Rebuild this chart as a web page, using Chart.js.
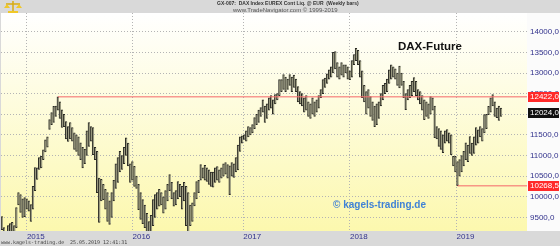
<!DOCTYPE html>
<html>
<head>
<meta charset="utf-8">
<script src="https://cdn.jsdelivr.net/npm/chart.js@4"></script>
<style>
  html, body { margin: 0; padding: 0; background: #fff; }
  canvas { display: block; }
</style>
</head>
<body>
<canvas id="daxChart" width="560" height="246"></canvas>
<script>
// DAX-Future, Wochenbars Okt 2014 - Mai 2019 (Tief / Hoch je Woche)
const lows = [
  9200, 8600, 8700, 8900, 9000, 9050, 9100, 9250, 9800, 9620,
  9500, 9520, 9700, 9650, 9400, 9700, 10150, 10420, 10660, 10700,
  10900, 11090, 11200, 11630, 11750, 11800, 11950, 12100, 11900, 11680,
  11700, 11400, 11340, 11400, 11350, 11150, 11100, 11000, 10900, 10700,
  10800, 11000, 11220, 11350, 11020, 10900, 10100, 9380, 9900, 9930,
  9700, 9400, 9330, 9500, 9900, 10200, 10350, 10600, 10660, 10800,
  11000, 10750, 10350, 10400, 10250, 10200, 9690, 9450, 9350, 9250,
  8900, 8700, 9100, 9300, 9500, 9700, 9770, 9800, 9600, 9700,
  9900, 10150, 9950, 9770, 9800, 9950, 10000, 9700, 9900, 9300,
  9100, 9300, 9400, 9780, 9950, 10100, 10400, 10450, 10400, 10370,
  10300, 10250, 10230, 10350, 10400, 10350, 10450, 10500, 10550, 10450,
  10050, 10500, 10470, 10600, 10650, 11100, 11300, 11390, 11350, 11450,
  11500, 11550, 11650, 11750, 11800, 11950, 12050, 11800, 11900, 12100,
  12150, 12000, 12250, 12350, 12450, 12550, 12600, 12550, 12600, 12700,
  12550, 12650, 12550, 12300, 12250, 12200, 12050, 12100, 11950, 11900,
  12000, 11950, 12050, 12150, 12400, 12500, 12650, 12750, 12850, 12900,
  13000, 13100, 12900, 12850, 12950, 12900, 13000, 12850, 12840, 12900,
  13200, 13300, 13200, 12900, 12400, 12300, 12000, 12150, 11950, 11850,
  11700, 11750, 11900, 12200, 12350, 12500, 12550, 12750, 12850, 12900,
  12850, 12700, 12640, 12700, 12400, 12110, 12350, 12400, 12450, 12550,
  12450, 12350, 12250, 12100, 11870, 11950, 11900, 12000, 12100, 11430,
  11400, 11220, 11150, 11070, 11300, 11350, 11300, 11020, 10750, 10600,
  10268.5, 10500, 10600, 10750, 10900, 10850, 11050, 11000, 11050, 11250,
  11300, 11450, 11350, 11550, 11650, 11990, 12050, 12200, 11950, 11920,
  11850, 11950
];
const highs = [
  9520, 9250, 9100, 9300, 9350, 9380, 9300, 9740, 10100, 10050,
  9950, 9980, 9950, 9900, 9810, 10250, 10710, 10700, 10950, 10980,
  11140, 11380, 11450, 11870, 12040, 12190, 12200, 12422, 12300, 12110,
  12000, 11820, 11700, 11800, 11680, 11550, 11500, 11450, 11310, 11200,
  11150, 11600, 11800, 11700, 11680, 11200, 11100, 10450, 10420, 10300,
  10180, 10100, 9900, 10100, 10400, 10800, 10950, 11100, 11000, 11200,
  11430, 11300, 10800, 10850, 10740, 10500, 10300, 10100, 9930, 9800,
  9600, 9400, 9550, 9930, 10050, 10100, 10180, 10100, 10000, 10150,
  10300, 10540, 10350, 10100, 10150, 10370, 10300, 10250, 10350, 10250,
  10100, 9800, 9850, 10100, 10370, 10400, 10780, 10700, 10760, 10700,
  10650, 10600, 10600, 10700, 10730, 10650, 10700, 10800, 10830, 10780,
  10750, 10830, 10800, 10950, 11250, 11450, 11480, 11500, 11600, 11700,
  11680, 11750, 11920, 12000, 12100, 12160, 12350, 12200, 12250, 12400,
  12450, 12350, 12480, 12500, 12840, 12840, 12960, 12900, 12850, 12960,
  12900, 12950, 12850, 12670, 12550, 12500, 12400, 12450, 12300, 12250,
  12400, 12300, 12350, 12450, 12600, 12840, 12880, 12980, 13080, 13150,
  13500, 13520, 13250, 13150, 13250, 13200, 13200, 13150, 13050, 13300,
  13450, 13600, 13550, 13300, 13050, 12700, 12550, 12600, 12430, 12300,
  12200, 12250, 12300, 12500, 12700, 12750, 12850, 13080, 13200, 13150,
  13100, 13000, 13170, 13000, 12800, 12500, 12600, 12700, 12800, 12890,
  12800, 12600, 12550, 12450, 12350, 12300, 12250, 12430, 12400, 12200,
  11700, 11650, 11600, 11500, 11600, 11630, 11550, 11500, 10980, 10980,
  10850, 10900, 11000, 11100, 11310, 11250, 11460, 11300, 11450, 11680,
  11620, 11700, 11650, 11990, 12000, 12190, 12400, 12475, 12300, 12150,
  12200, 12150
];
const lastClose = 12024;
const resistanceLevel = 12422;   // Hoch April 2015
const supportLevel = 10268.5;    // Tief Dezember 2018

const yearTicks = [12, 63, 116.5, 168, 219.5];   // Wochenindex des Jahreswechsels
const yearLabels = ['2015', '2016', '2017', '2018', '2019'];
const priceTicks = [9500, 10000, 10500, 11000, 11500, 12000, 12500, 13000, 13500, 14000];

const X_MIN = -0.5, X_MAX = 253.5;
const Y_MIN = 9170, Y_MAX = 14455;

const fmt = v => v.toFixed(1).replace('.', ',');

const bars = highs.map((h, i) => ({ x: i, y: [lows[i], h] }));
const resStart = highs.indexOf(resistanceLevel);
const supStart = lows.indexOf(supportLevel);

// Hintergrund: grauer Rahmen, Verlauf weiss -> gelb im Chartbereich
const backgroundPlugin = {
  id: 'background',
  beforeDraw(chart) {
    const { ctx, chartArea: a, width, height } = chart;
    ctx.save();
    ctx.fillStyle = '#d9d9d9';
    ctx.fillRect(0, 0, width, height);
    ctx.fillStyle = '#fbfbfb';
    ctx.fillRect(a.right, a.top, width - a.right, a.bottom - a.top);
    const g = ctx.createLinearGradient(0, a.top, 0, a.bottom);
    g.addColorStop(0, '#ffffff');
    g.addColorStop(1, '#fcf8ae');
    ctx.fillStyle = g;
    ctx.fillRect(a.left, a.top, a.right - a.left, a.bottom - a.top);

    // Logo (Waage) oben links
    ctx.strokeStyle = '#d9ac10';
    ctx.fillStyle = '#f0c828';
    ctx.lineWidth = 1.5;
    ctx.beginPath();
    ctx.moveTo(13, 1); ctx.lineTo(13, 11);
    ctx.moveTo(6, 4); ctx.lineTo(20, 4);
    ctx.stroke();
    ctx.beginPath(); ctx.moveTo(4, 8); ctx.lineTo(10, 8); ctx.lineTo(7, 4); ctx.closePath(); ctx.fill();
    ctx.beginPath(); ctx.moveTo(16, 8); ctx.lineTo(22, 8); ctx.lineTo(19, 4); ctx.closePath(); ctx.fill();
    ctx.fillRect(8, 11, 10, 2);

    // Kopfzeile
    ctx.fillStyle = '#333';
    ctx.textBaseline = 'middle';
    ctx.textAlign = 'left';
    ctx.font = 'bold 5px "Liberation Sans", Arial, sans-serif';
    ctx.fillText('GX-007:  DAX Index EUREX Cont Liq. @ EUR  (Weekly bars)', 217, 4);
    ctx.font = '6px "Liberation Sans", Arial, sans-serif';
    ctx.fillStyle = '#555';
    ctx.fillText('www.TradeNavigator.com \u00a9 1999-2019', 233, 10);

    // Fusszeile
    ctx.fillStyle = '#444';
    ctx.font = '5px "DejaVu Sans Mono", monospace';
    ctx.fillText('www.kagels-trading.de', 1, 243);
    ctx.fillText('25.05.2019 12:41:31', 70, 243);
    ctx.restore();
  },
  afterDraw(chart) {
    const { ctx, chartArea: a, scales } = chart;
    ctx.save();
    // Texte im Chart
    ctx.textBaseline = 'middle';
    ctx.textAlign = 'left';
    ctx.fillStyle = '#111';
    ctx.font = 'bold 11.5px "Liberation Sans", Arial, sans-serif';
    ctx.fillText('DAX-Future', 398, 47);
    ctx.fillStyle = '#3f82d6';
    ctx.font = 'bold 10px "Liberation Sans", Arial, sans-serif';
    ctx.fillText('\u00a9 kagels-trading.de', 333, 205);

    // Kursmarken an der rechten Achse
    const marks = [
      { v: resistanceLevel, bg: '#ff2a2a' },
      { v: lastClose, bg: '#111111' },
      { v: supportLevel, bg: '#ff2a2a' }
    ];
    ctx.font = '8px "Liberation Sans", Arial, sans-serif';
    marks.forEach(m => {
      const y = scales.y.getPixelForValue(m.v);
      ctx.fillStyle = m.bg;
      ctx.fillRect(a.right + 1, Math.round(y) - 5, 31, 10);
      ctx.fillStyle = '#fff';
      ctx.fillText(fmt(m.v), a.right + 3, y);
    });
    ctx.restore();
  }
};

const ctx = document.getElementById('daxChart').getContext('2d');
const myChart = new Chart(ctx, {
  data: {
    datasets: [
      {
        type: 'line',
        data: [{ x: resStart, y: resistanceLevel }, { x: X_MAX, y: resistanceLevel }],
        borderColor: 'rgba(245, 110, 110, 0.7)',
        borderWidth: 1.5,
        pointRadius: 0
      },
      {
        type: 'line',
        data: [{ x: supStart, y: supportLevel }, { x: X_MAX, y: supportLevel }],
        borderColor: 'rgba(245, 110, 110, 0.7)',
        borderWidth: 1.5,
        pointRadius: 0
      },
      {
        type: 'bar',
        data: bars,
        barThickness: 2,
        backgroundColor: '#9a9a80',
        borderColor: '#2a2a24',
        borderWidth: { left: 1, right: 0, top: 1, bottom: 1 },
        borderSkipped: false
      }
    ]
  },
  options: {
    responsive: false,
    animation: false,
    events: [],
    layout: { padding: { top: 13, left: 1, right: 0, bottom: 0 } },
    plugins: { legend: { display: false }, tooltip: { enabled: false } },
    scales: {
      x: {
        type: 'linear',
        offset: false,
        min: X_MIN,
        max: X_MAX,
        afterBuildTicks: s => { s.ticks = yearTicks.map(v => ({ value: v })); },
        afterFit: s => { s.height = 15; },
        grid: { color: '#b4b4b4', lineWidth: 1, drawTicks: false, offset: false },
        border: { display: false, dash: [1, 2] },
        ticks: {
          align: 'start',
          padding: 1,
          maxRotation: 0,
          color: '#31318c',
          font: { family: '"Liberation Sans", Arial, sans-serif', size: 8 },
          callback: v => yearLabels[yearTicks.indexOf(v)]
        }
      },
      y: {
        position: 'right',
        min: Y_MIN,
        max: Y_MAX,
        afterBuildTicks: s => { s.ticks = priceTicks.map(v => ({ value: v })); },
        afterFit: s => { s.width = 33; },
        grid: { color: '#b4b4b4', lineWidth: 1, drawTicks: false },
        border: { display: false, dash: [1, 2] },
        ticks: {
          padding: 3,
          color: '#31318c',
          font: { family: '"Liberation Sans", Arial, sans-serif', size: 8 },
          callback: v => fmt(v)
        }
      }
    }
  },
  plugins: [backgroundPlugin]
});
</script>
</body>
</html>
